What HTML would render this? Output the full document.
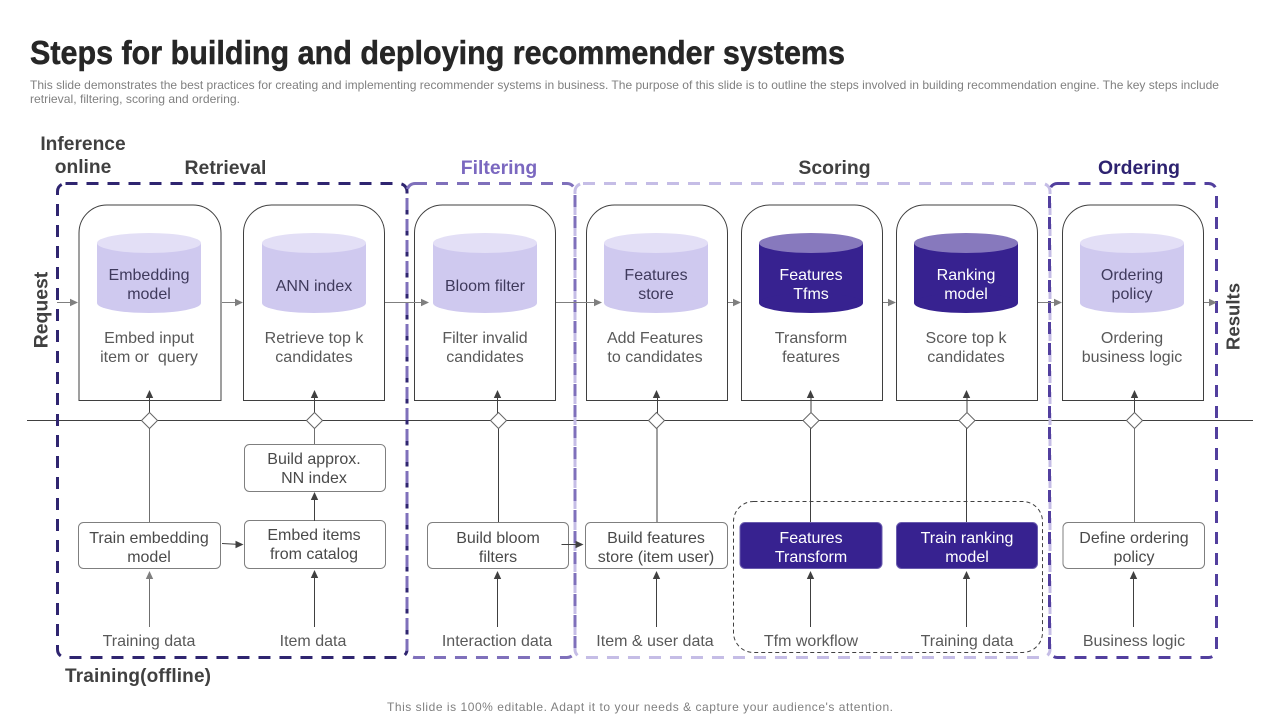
<!DOCTYPE html>
<html><head><meta charset="utf-8"><title>Steps for building and deploying recommender systems</title>
<style>
html,body{margin:0;padding:0;background:#fff;width:1280px;height:720px;overflow:hidden}
svg{display:block}
text{font-family:"Liberation Sans",sans-serif}
.t{font-size:16px;text-anchor:middle;fill:#595959}
.c{font-size:16px;text-anchor:middle;fill:#3f3a5c}
.w{font-size:16px;text-anchor:middle;fill:#fff}
.b{font-size:16px;text-anchor:middle;fill:#4a4a4a}
.h{font-size:19.4px;font-weight:bold;text-anchor:middle}
.card{fill:#fff;stroke:#3f3f3f;stroke-width:1}
.box{fill:#fff;stroke:#7f7f7f;stroke-width:1}
.dk{fill:#372290;stroke:#6a5cae;stroke-width:1}
.ln{stroke:#404040;stroke-width:1;fill:none}
.gl{stroke:#6f6f6f;stroke-width:1;fill:none}
.d{fill:#fff;stroke:#666;stroke-width:1}
</style></head><body>
<svg width="1280" height="720" viewBox="0 0 1280 720" xmlns="http://www.w3.org/2000/svg">
<defs>
<g id="cl"><rect x="0" y="10" width="104" height="60" fill="#cfc9ef"/><ellipse cx="52" cy="70" rx="52" ry="10" fill="#cfc9ef"/><ellipse cx="52" cy="10" rx="52" ry="10" fill="#e3dff6"/></g>
<g id="cd"><rect x="0" y="10" width="104" height="60" fill="#372290"/><ellipse cx="52" cy="70" rx="52" ry="10" fill="#372290"/><ellipse cx="52" cy="10" rx="52" ry="10" fill="#8779bd"/></g>
</defs>

<text x="30" y="64" font-size="33" font-weight="bold" fill="#262626" stroke="#262626" stroke-width="0.5" textLength="815" lengthAdjust="spacingAndGlyphs">Steps for building and deploying recommender systems</text>
<text x="30" y="89" font-size="12" fill="#808080" textLength="1189" lengthAdjust="spacingAndGlyphs">This slide demonstrates the best practices for creating and implementing recommender systems in business. The purpose of this slide is to outline the steps involved in building recommendation engine. The key steps include</text>
<text x="30" y="103" font-size="12" fill="#808080" textLength="210" lengthAdjust="spacingAndGlyphs">retrieval, filtering, scoring and ordering.</text>

<text x="83" y="150" font-size="19.2" font-weight="bold" text-anchor="middle" fill="#404040">Inference</text>
<text x="83" y="173" font-size="19.2" font-weight="bold" text-anchor="middle" fill="#404040">online</text>
<text x="225.500" y="174" class="h" fill="#404040">Retrieval</text>
<text x="499" y="174" class="h" fill="#7b68c0">Filtering</text>
<text x="834.500" y="174" class="h" fill="#404040">Scoring</text>
<text x="1139" y="174" class="h" fill="#2d2270">Ordering</text>
<text transform="translate(47.500 310) rotate(-90)" class="h" fill="#404040">Request</text>
<text transform="translate(1239.500 316.500) rotate(-90)" class="h" fill="#404040" style="font-size:18.6px">Results</text>
<text x="65" y="682" font-size="19" font-weight="bold" fill="#404040" textLength="146" lengthAdjust="spacing">Training(offline)</text>

<!-- main line -->
<path d="M27 420.500H1253" class="ln"/>

<!-- frames -->
<rect x="575" y="183.500" width="475" height="474" rx="8" fill="none" stroke="#c5bde6" stroke-width="3" stroke-dasharray="12 9"/>
<rect x="57.500" y="183.500" width="349.500" height="474" rx="8" fill="none" stroke="#2f2570" stroke-width="3" stroke-dasharray="12 9"/>
<rect x="407" y="183.500" width="168" height="474" rx="8" fill="none" stroke="#7f70bb" stroke-width="3" stroke-dasharray="12 9"/>
<rect x="1049.500" y="183.500" width="167" height="474" rx="8" fill="none" stroke="#523f9e" stroke-width="3" stroke-dasharray="12 9"/>

<!-- cards -->
<path class="card" d="M79 400.500V233a28 28 0 0 1 28-28h86a28 28 0 0 1 28 28V400.500Z"/>
<path class="card" d="M243.500 400.500V233a28 28 0 0 1 28-28h85a28 28 0 0 1 28 28V400.500Z"/>
<path class="card" d="M414.500 400.500V233a28 28 0 0 1 28-28h85a28 28 0 0 1 28 28V400.500Z"/>
<path class="card" d="M586.500 400.500V233a28 28 0 0 1 28-28h85a28 28 0 0 1 28 28V400.500Z"/>
<path class="card" d="M741.500 400.500V233a28 28 0 0 1 28-28h85a28 28 0 0 1 28 28V400.500Z"/>
<path class="card" d="M896.500 400.500V233a28 28 0 0 1 28-28h85a28 28 0 0 1 28 28V400.500Z"/>
<path class="card" d="M1062.500 400.500V233a28 28 0 0 1 28-28h85a28 28 0 0 1 28 28V400.500Z"/>

<!-- cylinders -->
<use href="#cl" x="97" y="233"/><use href="#cl" x="262" y="233"/><use href="#cl" x="433" y="233"/><use href="#cl" x="604" y="233"/><use href="#cd" x="759" y="233"/><use href="#cd" x="914" y="233"/><use href="#cl" x="1080" y="233"/>

<text class="c" x="149" y="280">Embedding</text><text class="c" x="149" y="299">model</text>
<text class="c" x="314" y="291">ANN index</text>
<text class="c" x="485" y="291">Bloom filter</text>
<text class="c" x="656" y="280">Features</text><text class="c" x="656" y="299">store</text>
<text class="w" x="811" y="280">Features</text><text class="w" x="811" y="299">Tfms</text>
<text class="w" x="966" y="280">Ranking</text><text class="w" x="966" y="299">model</text>
<text class="c" x="1132" y="280">Ordering</text><text class="c" x="1132" y="299">policy</text>

<text class="t" x="149" y="343">Embed input</text><text class="t" x="149" y="362">item or&#160; query</text>
<text class="t" x="314" y="343">Retrieve top k</text><text class="t" x="314" y="362">candidates</text>
<text class="t" x="485" y="343">Filter invalid</text><text class="t" x="485" y="362">candidates</text>
<text class="t" x="655" y="343">Add Features</text><text class="t" x="655" y="362">to candidates</text>
<text class="t" x="811" y="343">Transform</text><text class="t" x="811" y="362">features</text>
<text class="t" x="966" y="343">Score top k</text><text class="t" x="966" y="362">candidates</text>
<text class="t" x="1132" y="343">Ordering</text><text class="t" x="1132" y="362">business logic</text>

<!-- horizontal arrows -->
<g stroke="#7f7f7f" stroke-width="1" fill="none">
<path d="M57 302.500H70M222 302.500H236M385 302.500H422M556 302.500H596M728 302.500H735M883 302.500H890M1038 302.500H1056M1204 302.500H1211"/>
</g>
<g fill="#7f7f7f">
<path d="M78 302.500l-8-3.700v7.400z"/><path d="M243 302.500l-8-3.700v7.400z"/><path d="M429 302.500l-8-3.700v7.400z"/><path d="M602 302.500l-8-3.700v7.400z"/><path d="M741 302.500l-8-3.700v7.400z"/><path d="M896 302.500l-8-3.700v7.400z"/><path d="M1062 302.500l-8-3.700v7.400z"/><path d="M1217 302.500l-8-3.700v7.400z"/>
</g>

<!-- dashed group -->
<rect x="733.500" y="501.500" width="309" height="151" rx="20" fill="none" stroke="#404040" stroke-width="1" stroke-dasharray="4 3"/>

<!-- verticals -->
<path class="ln" d="M149.500 397V413M314.500 397V413M497.500 397V413M657.500 397V413M811 397V413M967 397V413M1134.500 397V413"/>
<g fill="#404040">
<path d="M149.500 390l-3.700 8h7.400z"/><path d="M314.500 390l-3.700 8h7.400z"/><path d="M497.500 390l-3.700 8h7.400z"/><path d="M656.500 390l-3.700 8h7.400z"/><path d="M810.500 390l-3.700 8h7.400z"/><path d="M966.500 390l-3.700 8h7.400z"/><path d="M1134.500 390l-3.700 8h7.400z"/>
</g>
<path class="gl" d="M149.500 428V522M314.500 428V444M1134.500 428V522"/>
<path class="ln" d="M498.500 428V522M657 428V522M810.500 428V522M966.500 428V522"/>
<g>
<path class="d" d="M149.500 412.500l8 8-8 8-8-8z"/><path class="d" d="M314.500 412.500l8 8-8 8-8-8z"/><path class="d" d="M498.500 412.500l8 8-8 8-8-8z"/><path class="d" d="M656.500 412.500l8 8-8 8-8-8z"/><path class="d" d="M811 412.500l8 8-8 8-8-8z"/><path class="d" d="M967 412.500l8 8-8 8-8-8z"/><path class="d" d="M1134.500 412.500l8 8-8 8-8-8z"/>
</g>

<!-- bottom boxes -->
<rect class="box" x="78.500" y="522.500" width="142" height="46" rx="5"/>
<rect class="box" x="244.500" y="444.500" width="141" height="47" rx="5"/>
<rect class="box" x="244.500" y="520.500" width="141" height="48" rx="5"/>
<rect class="box" x="427.500" y="522.500" width="141" height="46" rx="5"/>
<rect class="box" x="585.500" y="522.500" width="142" height="46" rx="5"/>
<rect class="dk" x="740" y="522.500" width="142" height="46" rx="5"/>
<rect class="dk" x="896.500" y="522.500" width="141" height="46" rx="5"/>
<rect class="box" x="1063" y="522.500" width="141.500" height="46" rx="5"/>

<text class="b" x="149" y="543">Train embedding</text><text class="b" x="149" y="562">model</text>
<text class="b" x="314" y="464">Build approx.</text><text class="b" x="314" y="483">NN index</text>
<text class="b" x="314" y="540">Embed items</text><text class="b" x="314" y="559">from catalog</text>
<text class="b" x="498" y="543">Build bloom</text><text class="b" x="498" y="562">filters</text>
<text class="b" x="656" y="543">Build features</text><text class="b" x="656" y="562">store (item user)</text>
<text class="w" x="811" y="543">Features</text><text class="w" x="811" y="562">Transform</text>
<text class="w" x="967" y="543">Train ranking</text><text class="w" x="967" y="562">model</text>
<text class="b" x="1134" y="543">Define ordering</text><text class="b" x="1134" y="562">policy</text>

<!-- lower arrows -->
<path class="ln" d="M314.500 521V499M222 543.500L236 544.300M561.500 544.500H576M314.500 627V577M497.500 627V578M656.500 627V578M810.500 627V578M966.500 627V578M1133.500 627V578"/>
<path class="gl" stroke="#888" d="M149.500 627V578"/>
<g fill="#404040">
<path d="M314.500 492l-3.700 8h7.400z"/><path d="M243.500 544.500l-8-3.700v7.400z"/><path d="M583.500 544.500l-8-3.700v7.400z"/><path d="M314.500 570l-3.700 8h7.400z"/><path d="M497.500 571l-3.700 8h7.400z"/><path d="M656.500 571l-3.700 8h7.400z"/><path d="M810.500 571l-3.700 8h7.400z"/><path d="M966.500 571l-3.700 8h7.400z"/><path d="M1133.500 571l-3.700 8h7.400z"/>
</g>
<path fill="#7f7f7f" d="M149.500 571l-3.700 8h7.400z"/>

<text class="t" x="149" y="646">Training data</text>
<text class="t" x="313" y="646">Item  data</text>
<text class="t" x="497" y="646">Interaction  data</text>
<text class="t" x="655" y="646">Item  &amp; user data</text>
<text class="t" x="811" y="646">Tfm  workflow</text>
<text class="t" x="967" y="646">Training  data</text>
<text class="t" x="1134" y="646">Business logic</text>

<text x="640" y="711" font-size="12" text-anchor="middle" fill="#808080" textLength="506" lengthAdjust="spacing">This slide is 100% editable. Adapt it to your needs &amp; capture your audience's attention.</text>
</svg>
</body></html>
